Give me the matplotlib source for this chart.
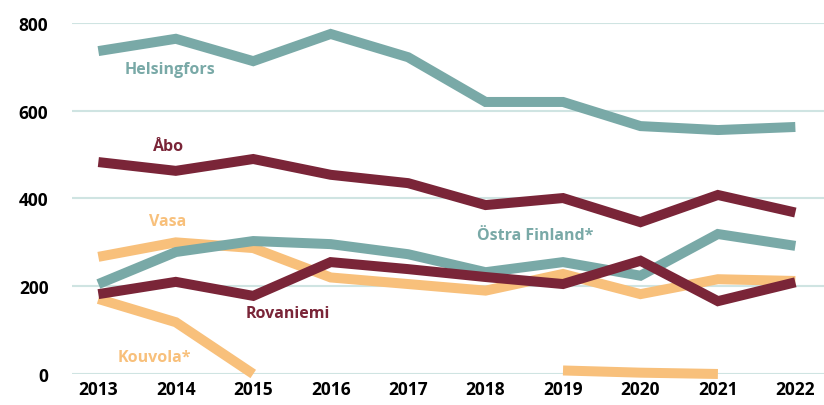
import numpy as np
import matplotlib
matplotlib.use("Agg")
import matplotlib.pyplot as plt

years = [2013, 2014, 2015, 2016, 2017, 2018, 2019, 2020, 2021, 2022]

helsingfors = [736, 764, 713, 775, 722, 620, 620, 565, 556, 563]
abo = [483, 463, 490, 454, 435, 385, 401, 346, 408, 368]
ostra_finland = [205, 278, 303, 296, 273, 232, 255, 224, 319, 292]
rovaniemi = [182, 210, 178, 255, 239, 221, 205, 258, 166, 209]
vasa = [267, 300, 287, 220, 205, 190, 228, 182, 216, 212]
kouvola = [171, 118, 0, None, None, None, 8, 3, 0, None]

y_ticks = [0, 200, 400, 600, 800]

TEAL = "#79a9a7"
RED = "#7a2538"
ORANGE = "#f8c07b"
GRID = "#cfe4e2"

plt.rcParams["font.family"] = ["Open Sans", "DejaVu Sans"]

fig = plt.figure(figsize=(8.24, 4.06), dpi=100)
ax = fig.add_axes([0.0874, 0.0764, 0.9126, 0.8645])

def draw(values, color):
    v = np.array([np.nan if x is None else x for x in values], dtype=float)
    ax.plot(years, v, color=color, lw=7.2, solid_capstyle="butt",
            solid_joinstyle="miter", clip_on=False, zorder=3)

draw(vasa, ORANGE)
draw(kouvola, ORANGE)
draw(ostra_finland, TEAL)
draw(helsingfors, TEAL)
draw(rovaniemi, RED)
draw(abo, RED)

ax.set_xlim(2012.66, 2022.37)
ax.set_ylim(0, 800)
ax.set_yticks(y_ticks)
ax.set_xticks(years)
ax.set_xticklabels([str(y) for y in years], fontsize=12.5, fontweight="bold")
ax.set_yticklabels([str(y) for y in y_ticks], fontsize=12.5, fontweight="bold")
ax.tick_params(axis="y", length=0, pad=17)
ax.tick_params(axis="x", length=0, pad=4)
ax.grid(axis="y", color=GRID, lw=1.5, zorder=0)
ax.set_axisbelow(True)
for s in ax.spines.values():
    s.set_visible(False)

labels = [
    ("Helsingfors", 2013.93, 695, TEAL),
    ("Åbo", 2013.9, 520, RED),
    ("Vasa", 2013.9, 349, ORANGE),
    ("Östra Finland*", 2018.64, 317, TEAL),
    ("Rovaniemi", 2015.45, 139, RED),
    ("Kouvola*", 2013.72, 39, ORANGE),
]
for text, x, y, c in labels:
    ax.text(x, y, text, color=c, fontsize=11.5, fontweight="bold",
            ha="center", va="center")

fig.savefig("out.png", dpi=100)
